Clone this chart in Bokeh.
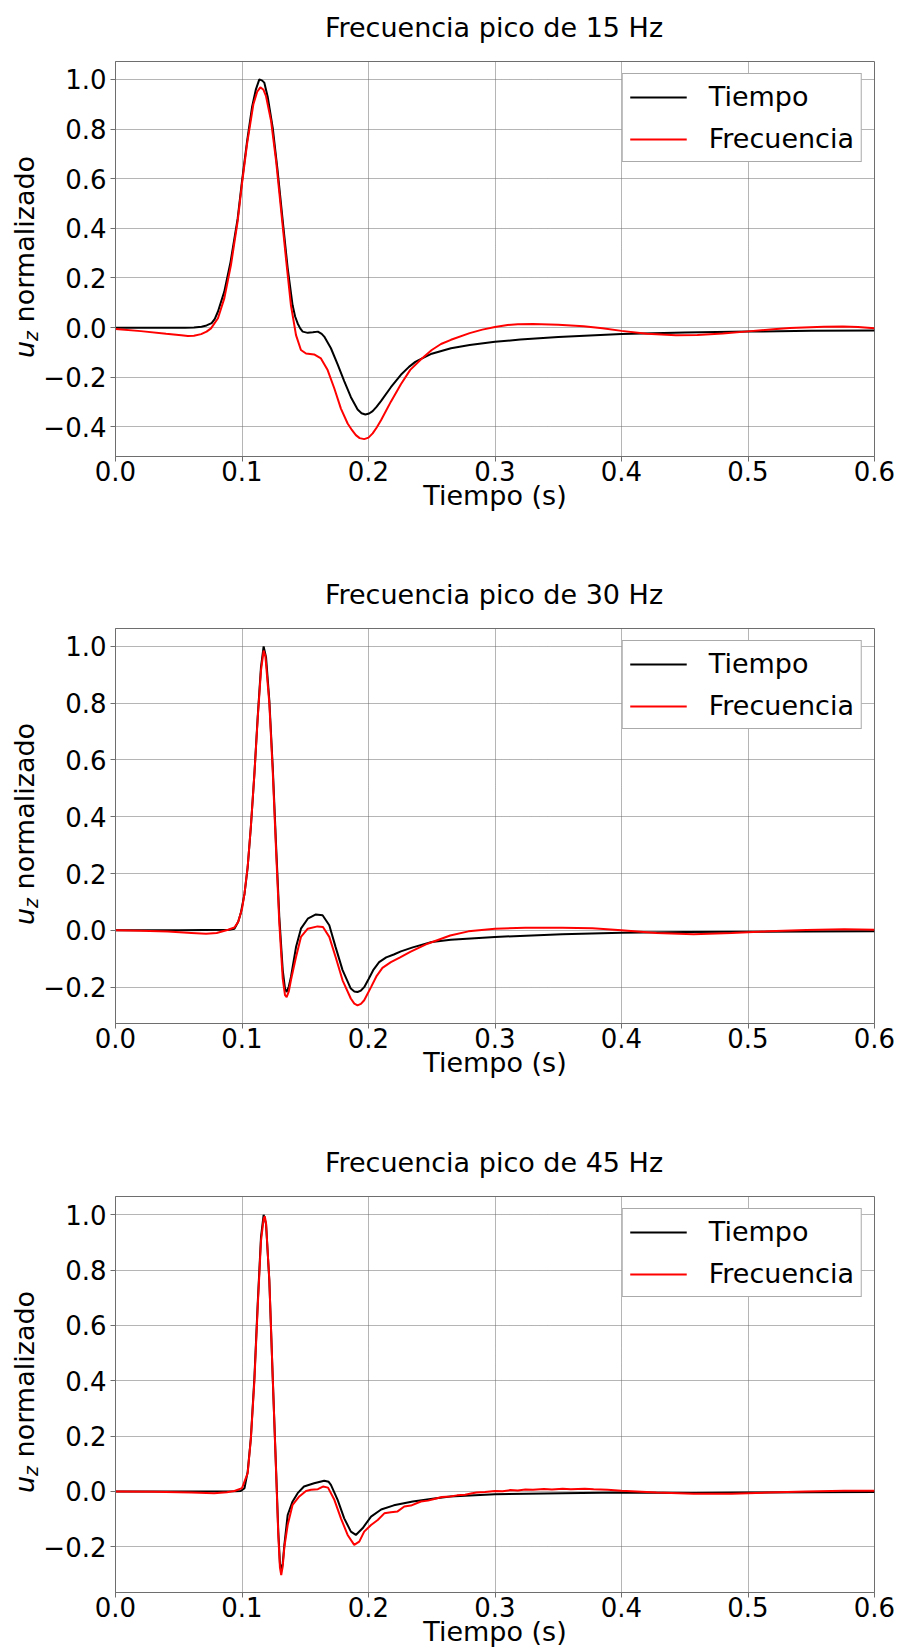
from bokeh.plotting import figure
from bokeh.layouts import column, row
from bokeh.models import Range1d, FixedTicker, CustomJSTickFormatter, Div
from bokeh.embed import file_html
from bokeh.resources import INLINE

# ---------------- data ----------------
titles = ["Frecuencia pico de 15 Hz", "Frecuencia pico de 30 Hz", "Frecuencia pico de 45 Hz"]
series_names = ["Tiempo", "Frecuencia"]
x_label = "Tiempo (s)"
y_label_parts = ["u", "z", "normalizado"]
x_ticks = [0.0, 0.1, 0.2, 0.3, 0.4, 0.5, 0.6]
y_ticks_15 = [-0.4, -0.2, 0.0, 0.2, 0.4, 0.6, 0.8, 1.0]
y_ticks_30 = [-0.2, 0.0, 0.2, 0.4, 0.6, 0.8, 1.0]
y_ticks_45 = [-0.2, 0.0, 0.2, 0.4, 0.6, 0.8, 1.0]

# 15 Hz - Tiempo
t15_tiempo = [0.000, 0.030, 0.055, 0.062, 0.068, 0.072, 0.076, 0.0785, 0.081, 0.086, 0.091, 0.0966,
              0.100, 0.104, 0.108, 0.111, 0.1137, 0.116, 0.1176, 0.1203, 0.1243, 0.1282, 0.1322,
              0.1361, 0.140, 0.142, 0.144, 0.146, 0.148, 0.152, 0.156, 0.160, 0.163, 0.165, 0.1703,
              0.1756, 0.1808, 0.1861, 0.1914, 0.1945, 0.1975, 0.2005, 0.2033, 0.2065, 0.210, 0.2177,
              0.2256, 0.232, 0.237, 0.242, 0.250, 0.2652, 0.280, 0.300, 0.320, 0.350, 0.400, 0.450,
              0.500, 0.550, 0.600]
v15_tiempo = [0.000, 0.000, 0.000, 0.001, 0.004, 0.009, 0.018, 0.035, 0.065, 0.145, 0.266, 0.440,
              0.590, 0.750, 0.890, 0.960, 1.000, 0.995, 0.987, 0.930, 0.805, 0.630, 0.430,
              0.240, 0.090, 0.045, 0.017, -0.003, -0.016, -0.021, -0.019, -0.016, -0.025, -0.036, -0.083,
              -0.148, -0.215, -0.280, -0.330, -0.345, -0.350, -0.346, -0.336, -0.318, -0.295, -0.240,
              -0.190, -0.158, -0.138, -0.125, -0.105, -0.083, -0.070, -0.057, -0.048, -0.038, -0.026, -0.020,
              -0.016, -0.013, -0.011]

# 15 Hz - Frecuencia
t15_frec = [0.000, 0.020, 0.040, 0.052, 0.0572, 0.062, 0.0677, 0.072, 0.0755, 0.081, 0.086, 0.0913,
            0.0966, 0.100, 0.104, 0.109, 0.112, 0.1145, 0.117, 0.119, 0.123, 0.127, 0.131, 0.135,
            0.1387, 0.1427, 0.1466, 0.1506, 0.157, 0.1624, 0.1677, 0.173, 0.1782, 0.1835, 0.187,
            0.190, 0.193, 0.1966, 0.200, 0.2033, 0.2065, 0.210, 0.2177, 0.2256, 0.233, 0.242, 0.250,
            0.2573, 0.2652, 0.280, 0.290, 0.300, 0.310, 0.318, 0.330, 0.350, 0.370, 0.385, 0.400,
            0.420, 0.443, 0.460, 0.480, 0.500, 0.520, 0.533, 0.560, 0.575, 0.587, 0.600]
v15_frec = [-0.005, -0.014, -0.025, -0.031, -0.034, -0.033, -0.026, -0.016, -0.003, 0.038, 0.118, 0.253,
            0.430, 0.580, 0.740, 0.900, 0.950, 0.968, 0.958, 0.932, 0.832, 0.670, 0.468, 0.267,
            0.090, -0.030, -0.090, -0.104, -0.108, -0.124, -0.171, -0.245, -0.326, -0.386, -0.413,
            -0.433, -0.445, -0.449, -0.443, -0.426, -0.402, -0.372, -0.298, -0.228, -0.170, -0.125, -0.090,
            -0.066, -0.049, -0.022, -0.008, 0.003, 0.011, 0.014, 0.015, 0.012, 0.006, -0.002, -0.013,
            -0.025, -0.031, -0.030, -0.024, -0.015, -0.006, -0.001, 0.004, 0.005, 0.003, -0.002]

# 30 Hz - Tiempo
t30_tiempo = [0.000, 0.050, 0.090, 0.094, 0.097, 0.099, 0.102, 0.1045, 0.107, 0.1098, 0.1124, 0.115,
              0.1171, 0.119, 0.1216, 0.1243, 0.127, 0.1295, 0.1322, 0.134, 0.1353, 0.137, 0.1387,
              0.1427, 0.1466, 0.152, 0.1584, 0.1637, 0.169, 0.174, 0.1795, 0.186, 0.1888, 0.1913,
              0.194, 0.1966, 0.200, 0.204, 0.2084, 0.214, 0.220, 0.2256, 0.235, 0.250, 0.265, 0.300,
              0.353, 0.400, 0.450, 0.500, 0.550, 0.600]
v30_tiempo = [0.000, 0.000, 0.002, 0.006, 0.030, 0.060, 0.129, 0.223, 0.364, 0.552, 0.751, 0.927,
              1.000, 0.962, 0.810, 0.575, 0.293, 0.047, -0.140, -0.205, -0.217, -0.198, -0.164,
              -0.059, 0.006, 0.041, 0.056, 0.053, 0.018, -0.059, -0.140, -0.205, -0.215, -0.217,
              -0.212, -0.200, -0.172, -0.138, -0.112, -0.095, -0.085, -0.074, -0.060, -0.041, -0.033, -0.023,
              -0.014, -0.008, -0.006, -0.005, -0.004, -0.0035]

# 30 Hz - Frecuencia
t30_frec = [0.000, 0.020, 0.0413, 0.060, 0.0716, 0.080, 0.089, 0.094, 0.097, 0.100, 0.102, 0.1045,
            0.107, 0.1098, 0.1124, 0.115, 0.1171, 0.1185, 0.1216, 0.1243, 0.127, 0.1295, 0.1322,
            0.134, 0.1353, 0.137, 0.1387, 0.1427, 0.1466, 0.152, 0.1597, 0.164, 0.169, 0.174, 0.1795,
            0.186, 0.1888, 0.1913, 0.194, 0.1966, 0.202, 0.2065, 0.211, 0.2177, 0.225, 0.233, 0.2467,
            0.2646, 0.279, 0.300, 0.324, 0.353, 0.377, 0.400, 0.4276, 0.457, 0.487, 0.516, 0.546,
            0.576, 0.600]
v30_frec = [0.000, -0.001, -0.004, -0.009, -0.012, -0.009, 0.002, 0.010, 0.030, 0.075, 0.130, 0.225,
            0.365, 0.550, 0.745, 0.915, 0.985, 0.965, 0.800, 0.560, 0.275, 0.025, -0.170,
            -0.228, -0.235, -0.215, -0.175, -0.094, -0.023, 0.006, 0.014, 0.012, -0.023, -0.094, -0.176,
            -0.240, -0.258, -0.264, -0.259, -0.246, -0.200, -0.160, -0.132, -0.112, -0.095, -0.076, -0.047,
            -0.018, -0.0035, 0.006, 0.0094, 0.0094, 0.007, 0.000, -0.0094, -0.014, -0.0094, -0.0035, 0.001,
            0.0035, 0.002]

# 45 Hz - Tiempo
t45_tiempo = [0.000, 0.050, 0.095, 0.099, 0.102, 0.1045, 0.107, 0.1098, 0.1124, 0.115, 0.1171, 0.119,
              0.1216, 0.1243, 0.127, 0.1287, 0.130, 0.131, 0.1322, 0.1335, 0.1361, 0.140, 0.144, 0.149,
              0.157, 0.165, 0.1685, 0.1703, 0.1756, 0.1808, 0.1861, 0.190, 0.1953, 0.202, 0.210, 0.220,
              0.235, 0.252, 0.2646, 0.300, 0.353, 0.400, 0.457, 0.500, 0.550, 0.600]
v45_tiempo = [0.000, 0.000, 0.001, 0.002, 0.012, 0.072, 0.193, 0.411, 0.677, 0.919, 1.000, 0.967,
              0.762, 0.411, 0.072, -0.145, -0.260, -0.284, -0.260, -0.193, -0.085, -0.036, -0.006, 0.018,
              0.030, 0.039, 0.035, 0.024, -0.030, -0.097, -0.145, -0.157, -0.133, -0.091, -0.065, -0.050,
              -0.036, -0.025, -0.018, -0.0097, -0.006, -0.004, -0.005, -0.004, -0.003, -0.002]

# 45 Hz - Frecuencia
t45_frec = [0.000, 0.030, 0.060, 0.078, 0.088, 0.094, 0.100, 0.1045, 0.107, 0.1098, 0.1124, 0.115,
            0.1171, 0.118, 0.119, 0.1216, 0.1243, 0.127, 0.1287, 0.130, 0.131, 0.1322, 0.1335, 0.1361,
            0.140, 0.1453, 0.1506, 0.1545, 0.160, 0.164, 0.168, 0.173, 0.1782, 0.1835, 0.1887, 0.1927,
            0.1966, 0.202, 0.2073, 0.2125, 0.2177, 0.223, 0.2283, 0.2335, 0.2414, 0.247, 0.252, 0.258,
            0.2646, 0.270, 0.2764, 0.282, 0.2853, 0.292, 0.300, 0.306, 0.312, 0.318, 0.324, 0.330,
            0.3387, 0.345, 0.3535, 0.360, 0.371, 0.378, 0.389, 0.400, 0.4276, 0.457, 0.487, 0.516,
            0.546, 0.576, 0.600]
v45_frec = [0.000, -0.001, -0.004, -0.006, -0.003, 0.002, 0.012, 0.066, 0.190, 0.400, 0.665, 0.905,
            0.985, 0.995, 0.970, 0.765, 0.410, 0.065, -0.160, -0.275, -0.302, -0.270, -0.200, -0.121,
            -0.048, -0.018, 0.002, 0.006, 0.0085, 0.018, 0.014, -0.030, -0.097, -0.157, -0.193, -0.181,
            -0.145, -0.121, -0.103, -0.079, -0.075, -0.072, -0.054, -0.051, -0.036, -0.033, -0.027, -0.020,
            -0.018, -0.014, -0.012, -0.006, -0.004, -0.002, 0.002, 0.001, 0.005, 0.004, 0.007, 0.006,
            0.009, 0.007, 0.0097, 0.008, 0.0097, 0.008, 0.006, 0.0024, -0.004, -0.0085, -0.0085, -0.004,
            0.000, 0.0024, 0.0024]

y_limits = [(-0.519, 1.072), (-0.328, 1.063), (-0.365, 1.066)]

FONT = "DejaVu Sans"
FS_TICK = "26px"
FS = "27px"
GRAY = "#6e6e6e"
LABEL_W = 40
TITLE_H = 44
PAGE_W = 899


def make_title_div(text):
    html = (
        f'<div style="position:relative;width:{PAGE_W}px;height:{TITLE_H}px;">'
        '<div style="position:absolute;left:494px;top:27px;transform:translate(-50%,-50%);'
        "white-space:nowrap;font-family:'DejaVu Sans';font-size:27px;line-height:27px;color:black;\">"
        f'{text}</div></div>'
    )
    return Div(text=html, width=PAGE_W, height=TITLE_H, margin=0, styles={"overflow": "visible"})


def make_label_div(height):
    # y-axis label: italic u with subscript z, then "normalizado", rotated
    html = (
        f'<div style="position:relative;width:{LABEL_W}px;height:{height}px;">'
        f'<div style="position:absolute;left:26px;top:{257 - TITLE_H}px;'
        'transform:translate(-50%,-50%) rotate(-90deg);white-space:nowrap;'
        "font-family:'DejaVu Sans';font-size:27px;line-height:27px;color:black;\">"
        f'<i>{y_label_parts[0]}</i>'
        f'<i style="font-size:19px;position:relative;top:4px;">{y_label_parts[1]}</i>'
        f'&nbsp;{y_label_parts[2]}'
        '</div></div>'
    )
    return Div(text=html, width=LABEL_W, height=height, margin=0,
               styles={"overflow": "visible"})


def make_fig(ta, va, tb, vb, ylim, yticks, height, bottom):
    p = figure(width=PAGE_W - LABEL_W, height=height, x_range=Range1d(0, 0.6), y_range=Range1d(*ylim),
               output_backend="svg", toolbar_location=None, title=None,
               min_border_left=114 - LABEL_W, min_border_right=25, min_border_top=61 - TITLE_H,
               min_border_bottom=bottom)
    p.background_fill_color = "white"
    p.border_fill_color = "white"
    p.outline_line_color = GRAY
    p.outline_line_width = 1

    fmt = CustomJSTickFormatter(code="return tick.toFixed(1).replace('-', '\u2212');")
    p.xaxis.ticker = FixedTicker(ticks=x_ticks)
    p.yaxis.ticker = FixedTicker(ticks=yticks)
    for ax in (p.xaxis, p.yaxis):
        ax.formatter = fmt
        ax.axis_line_color = GRAY
        ax.major_tick_line_color = GRAY
        ax.major_tick_in = 0
        ax.major_tick_out = 5
        ax.minor_tick_line_color = None
        ax.major_label_text_font = FONT
        ax.major_label_text_font_size = FS_TICK
        ax.major_label_text_color = "black"
    p.xaxis.major_label_standoff = -1
    p.yaxis.major_label_standoff = 4
    p.xaxis.axis_label = x_label
    p.xaxis.axis_label_text_font = FONT
    p.xaxis.axis_label_text_font_size = FS
    p.xaxis.axis_label_text_font_style = "normal"
    p.xaxis.axis_label_text_color = "black"
    p.xaxis.axis_label_standoff = -4

    p.grid.grid_line_color = "#6a6a6a"
    p.grid.grid_line_dash = "1 1"
    p.grid.grid_line_width = 1

    p.line(ta, va, line_color="black", line_width=2, legend_label=series_names[0])
    p.line(tb, vb, line_color="red", line_width=2, legend_label=series_names[1])

    lg = p.legend[0]
    lg.location = "top_right"
    lg.margin = 12
    lg.label_text_font = FONT
    lg.label_text_font_size = FS
    lg.label_text_color = "black"
    lg.border_line_color = "#555555"
    lg.border_line_width = 1
    lg.background_fill_alpha = 1.0
    lg.padding = 7
    lg.spacing = 11
    lg.glyph_width = 57
    lg.glyph_height = 28
    lg.label_height = 28
    lg.label_standoff = 22
    return p


heights = [567, 568, 514]
bottoms = [111, 112, 57]
data = [(t15_tiempo, v15_tiempo, t15_frec, v15_frec, y_ticks_15),
        (t30_tiempo, v30_tiempo, t30_frec, v30_frec, y_ticks_30),
        (t45_tiempo, v45_tiempo, t45_frec, v45_frec, y_ticks_45)]

blocks = []
for i in range(3):
    ta, va, tb, vb, yt = data[i]
    h = heights[i] - TITLE_H
    main = make_fig(ta, va, tb, vb, y_limits[i], yt, h, bottoms[i])
    blocks.append(make_title_div(titles[i]))
    blocks.append(row(make_label_div(h), main, spacing=0))

layout = column(*blocks, spacing=0)
open("out.html", "w").write(file_html(layout, INLINE))
